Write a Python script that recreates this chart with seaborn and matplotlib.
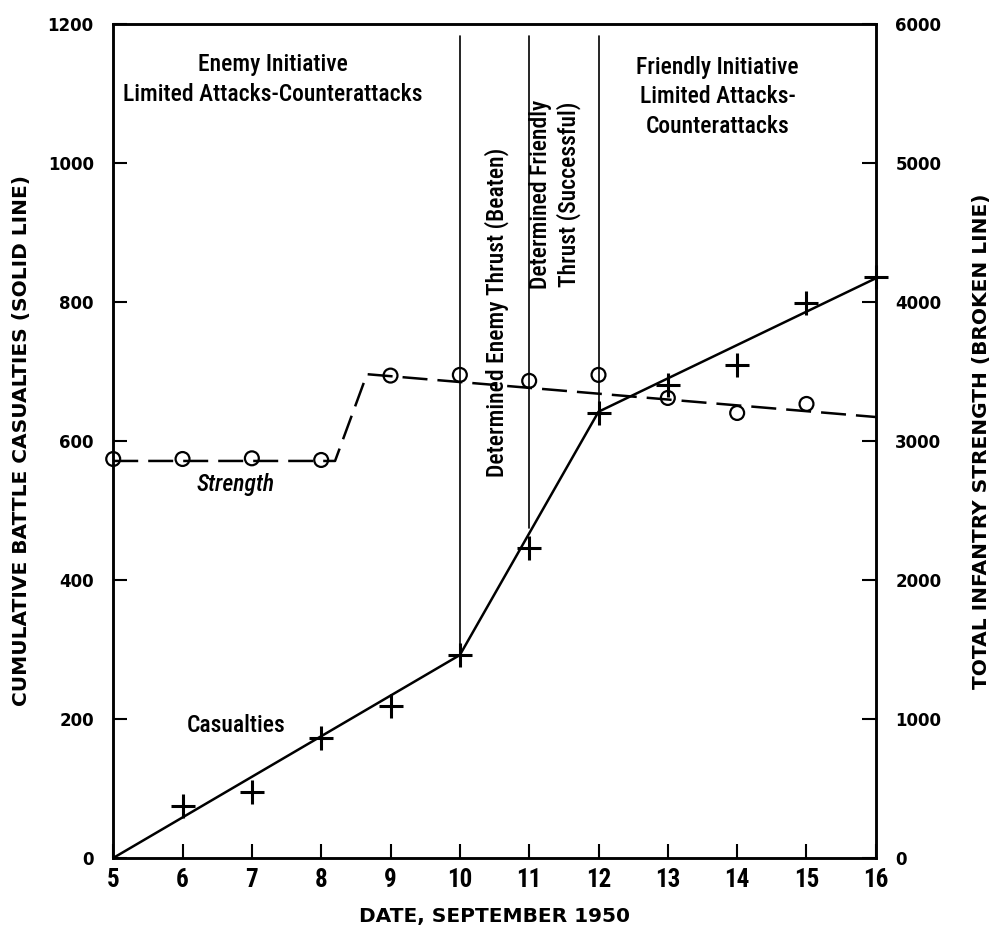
import numpy as np
import pandas as pd
import seaborn as sns
import matplotlib.pyplot as plt

# Data
days = [5, 6, 7, 8, 9, 10, 11, 12, 13, 14, 15, 16]
casualties = [0, 75, 95, 173, 218, 292, 446, 640, 680, 709, 799, 836]

strength_days = [5, 6, 7, 8, 9, 10, 11, 12, 13, 14, 15]
strength = [2870, 2870, 2875, 2863, 3470, 3475, 3432, 3475, 3309, 3201, 3266]

# fitted (hand drawn) trend lines
cas_fit_x = [5, 10, 12, 16]
cas_fit_y = [0, 292, 642, 834]
str_fit_x = [5, 8.2, 8.66, 16]
str_fit_y = [2856, 2856, 3480, 3172]

# vertical phase lines: day, bottom value
phase_days = [10, 11, 12]
phase_bottom = [292, 475, 640]
phase_top = 1183

sns.set_style("ticks")
plt.rcParams["font.family"] = ["DejaVu Sans"]
plt.rcParams["text.color"] = "black"
plt.rcParams["axes.labelcolor"] = "black"
plt.rcParams["xtick.color"] = "black"
plt.rcParams["ytick.color"] = "black"
narrow = ["Liberation Sans Narrow", "Roboto Condensed", "IBM Plex Sans Condensed",
          "Open Sans Condensed", "DejaVu Sans"]

fig = plt.figure(figsize=(9.93, 9.32), dpi=100)
ax = fig.add_axes([0.114, 0.0794, 0.768, 0.895])
ax2 = ax.twinx()

cas_df = pd.DataFrame({"day": days, "cas": casualties})
str_df = pd.DataFrame({"day": strength_days, "str": strength})

sns.lineplot(x=cas_fit_x, y=cas_fit_y, ax=ax, color="black", lw=1.8)
sns.scatterplot(data=cas_df.iloc[1:], x="day", y="cas", ax=ax, marker="+",
                s=300, color="black", linewidth=2.2, zorder=5, clip_on=False)
for d, b in zip(phase_days, phase_bottom):
    ax.plot([d, d], [b, phase_top], color="black", lw=1.2)

sns.lineplot(x=str_fit_x, y=str_fit_y, ax=ax2, color="black", lw=1.8,
             linestyle=(0, (10, 4)))
sns.scatterplot(data=str_df, x="day", y="str", ax=ax2, marker="o", s=100,
                facecolor="none", edgecolor="black", linewidth=1.6, zorder=5,
                clip_on=False)

ax.set_xlim(5, 16)
ax.set_ylim(0, 1200)
ax2.set_ylim(0, 6000)
ax.set_xticks(range(5, 17))
ax.set_yticks(range(0, 1201, 200))
ax2.set_yticks(range(0, 6001, 1000))

for a in (ax, ax2):
    for s in a.spines.values():
        s.set_visible(True)
        s.set_linewidth(1.8)
        s.set_color("black")
ax.tick_params(axis="both", direction="in", length=10, width=1.5)
ax.tick_params(axis="y", pad=14, labelsize=12)
ax.tick_params(axis="x", pad=16)
ax2.tick_params(axis="y", direction="in", length=10, width=1.5, pad=14, labelsize=12)
for lab in ax.get_yticklabels() + ax2.get_yticklabels():
    lab.set_fontweight("bold")
for lab in ax.get_xticklabels():
    lab.set_fontfamily(narrow)
    lab.set_fontweight("bold")
    lab.set_fontsize(18)
    lab.set_verticalalignment("center")

ax.set_xlabel("DATE, SEPTEMBER 1950", fontsize=14.5, fontweight="bold", labelpad=11)
ax.set_ylabel("CUMULATIVE BATTLE CASUALTIES (SOLID LINE)", fontsize=14.5,
              fontweight="bold", labelpad=12)
ax2.set_ylabel("TOTAL INFANTRY STRENGTH (BROKEN LINE)", fontsize=14.5,
               fontweight="bold", labelpad=22)

ax.text(7.3, 1120, "Enemy Initiative\nLimited Attacks-Counterattacks",
        ha="center", va="center", fontsize=17, family=narrow, linespacing=1.35,
        fontweight=500)
ax.text(13.72, 1095, "Friendly Initiative\nLimited Attacks-\nCounterattacks",
        ha="center", va="center", fontsize=17, family=narrow, linespacing=1.35,
        fontweight=500)
ax.text(10.53, 785, "Determined Enemy Thrust (Beaten)", rotation=90,
        ha="center", va="center", fontsize=17, family=narrow, fontweight=500)
ax.text(11.37, 955, "Determined Friendly\nThrust (Successful)", rotation=90,
        ha="center", va="center", fontsize=17, family=narrow, linespacing=1.2,
        fontweight=500)
ax.text(6.76, 537, "Strength", ha="center", va="center", fontsize=17,
        family=narrow, style="italic", fontweight=500)
ax.text(6.78, 191, "Casualties", ha="center", va="center", fontsize=17,
        family=narrow, fontweight=500)

fig.savefig("out.png", dpi=100)
